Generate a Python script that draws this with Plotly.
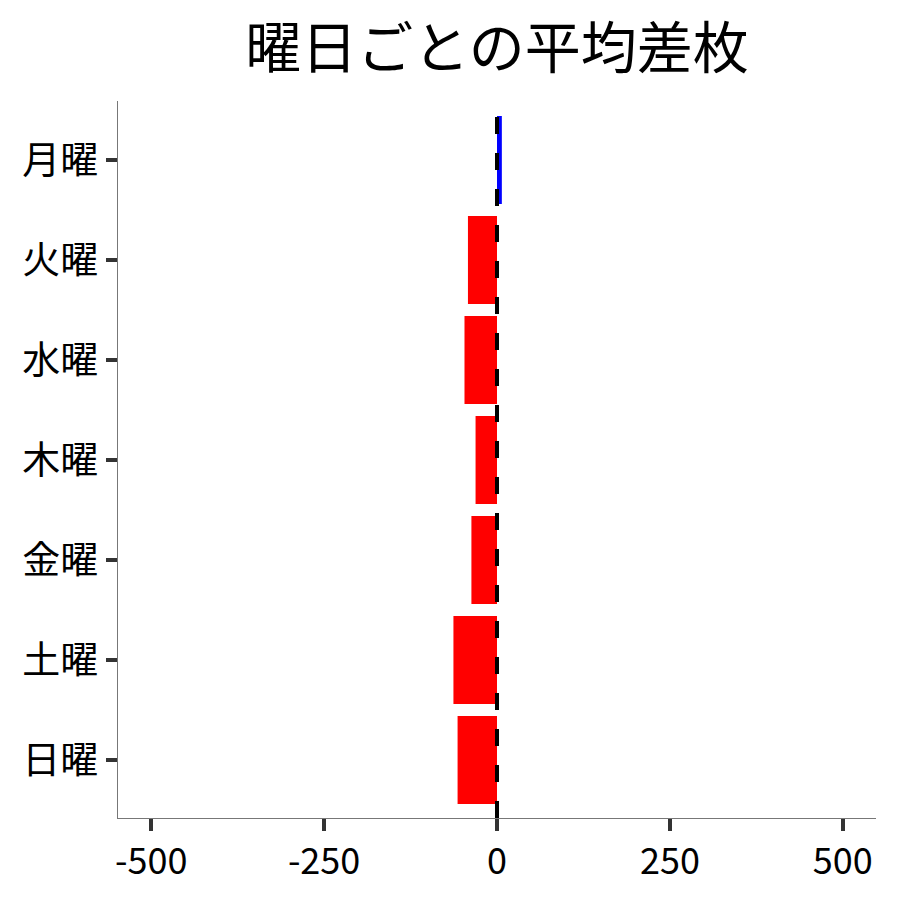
import plotly.graph_objects as go

# 曜日ごとの平均差枚
days = ["月曜", "火曜", "水曜", "木曜", "金曜", "土曜", "日曜"]
avg_diff = [7, -42, -47, -31, -37, -63, -57]
x_ticks = [-500, -250, 0, 250, 500]

colors = ["#0000ff" if v > 0 else "#ff0000" for v in avg_diff]

fig = go.Figure(
    go.Bar(
        x=avg_diff,
        y=days,
        orientation="h",
        marker=dict(color=colors, line=dict(width=0)),
        width=0.88,
    )
)

# zero line, dashed like axvline
fig.add_shape(
    type="line",
    xref="x",
    yref="paper",
    x0=0,
    x1=0,
    y0=0,
    y1=1,
    line=dict(color="black", width=4, dash="17px,19px"),
)

# page body adds an 8px offset, margins account for it
fig.update_layout(
    width=900,
    height=900,
    margin={"l": 110, "r": 32, "t": 93, "b": 90},
    paper_bgcolor="white",
    plot_bgcolor="white",
    font=dict(family="Noto Sans CJK JP", color="black", size=36),
    title=dict(
        text="曜日ごとの平均差枚",
        x=0.5,
        xref="paper",
        xanchor="center",
        y=1 - 40 / 900,
        yref="container",
        yanchor="middle",
        font=dict(size=56, family="Noto Sans CJK JP", color="black"),
    ),
    showlegend=False,
    bargap=0.12,
)

fig.update_xaxes(
    range=[-548, 548],
    tickvals=x_ticks,
    ticktext=[str(t) for t in x_ticks],
    showgrid=False,
    zeroline=False,
    showline=True,
    linecolor="#777777",
    linewidth=1.2,
    ticks="outside",
    ticklen=12,
    tickwidth=4,
    tickcolor="#333333",
    tickfont=dict(size=36),
)

fig.update_yaxes(
    categoryorder="array",
    categoryarray=days,
    range=[6.58, -0.59],
    showgrid=False,
    zeroline=False,
    showline=True,
    linecolor="#777777",
    linewidth=1.2,
    ticks="outside",
    ticklen=11,
    tickwidth=4,
    tickcolor="#333333",
    tickfont=dict(size=38),
)

fig.write_html("out.html")
